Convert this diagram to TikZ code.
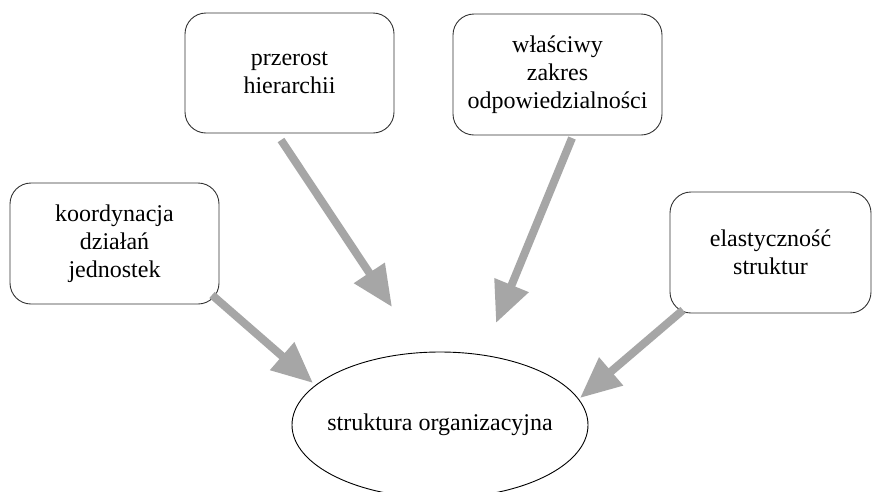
\documentclass[tikz,border=0pt]{standalone}
\usepackage{fontspec}
\setmainfont{Liberation Serif}
\usetikzlibrary{arrows.meta,shapes.geometric}
\tikzset{
  box/.style={draw=black!80, line width=0.9pt, rounded corners=21pt, align=center,
    inner sep=0pt, font=\fontsize{24}{28}\selectfont},
  oval/.style={draw=black, line width=0.9pt, ellipse, inner sep=0pt,
    minimum width=296pt, minimum height=146pt, font=\fontsize{24}{28}\selectfont},
  arr/.style={draw=black!35, line width=8pt,
    -{Triangle[length=41pt,width=35pt]}}
}
\begin{document}
\begin{tikzpicture}[x=1pt,y=-1pt]
\clip (0,0) rectangle (872,491);
\fill[white] (0,0) rectangle (872,491);
\node[box, minimum width=209pt, minimum height=121pt] (b1) at (114.5,243.5) {koordynacja\\działań\\jednostek};
\node[box, minimum width=209pt, minimum height=120pt] (b2) at (289.5,73) {przerost\\hierarchii};
\node[box, minimum width=209pt, minimum height=121pt] (b3) at (557.5,74.5) {właściwy\\zakres\\odpowiedzialności};
\node[box, minimum width=201pt, minimum height=121pt] (b4) at (770.5,252.5) {elastyczność\\struktur};
\node[oval] (s) at (440,425) {\makebox[0pt]{struktura organizacyjna}};
\coordinate (a1s) at (212,295);
\coordinate (a1e) at (313,383);
\coordinate (a2s) at (281,140);
\coordinate (a2e) at (392,307);
\coordinate (a3s) at (572,138);
\coordinate (a3e) at (496,323);
\coordinate (a4s) at (683,310);
\coordinate (a4e) at (580,398);
\draw[arr] (a1s) -- (a1e);
\draw[arr] (a2s) -- (a2e);
\draw[arr] (a3s) -- (a3e);
\draw[arr] (a4s) -- (a4e);
\end{tikzpicture}
\end{document}
